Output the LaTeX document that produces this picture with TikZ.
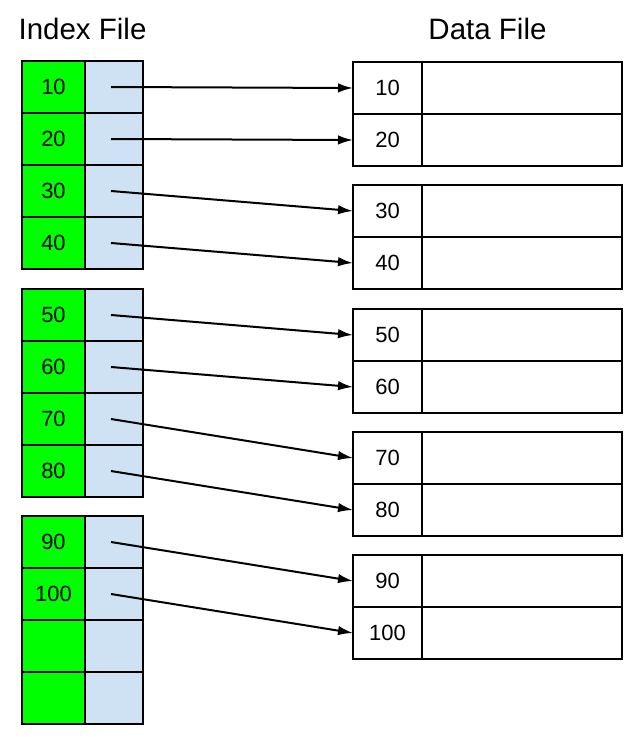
\documentclass[tikz,border=0pt]{standalone}
\usepackage{fontspec}
\setmainfont{Liberation Sans}
\usetikzlibrary{arrows.meta}
\definecolor{keygreen}{HTML}{00FF00}
\definecolor{ptrblue}{HTML}{CFE2F3}
\tikzset{
  cell/.style={draw=black, line width=2.3pt, rectangle, inner sep=0pt, outer sep=0pt, anchor=north west, minimum height=52pt, font=\fontsize{22}{24}\selectfont},
  ikey/.style={cell, fill=keygreen, minimum width=63pt},
  iptr/.style={cell, fill=ptrblue, minimum width=58pt},
  dkey/.style={cell, fill=white, minimum width=69pt},
  dval/.style={cell, fill=white, minimum width=200pt},
  title/.style={font=\fontsize{29.5}{34}\selectfont, anchor=base, inner sep=0pt},
  arr/.style={line width=2pt, -{Latex[length=15pt,width=9.5pt]}}
}
\begin{document}
\begin{tikzpicture}[x=1pt,y=-1pt]
\useasboundingbox (0,0) rectangle (638,741);
\node[title] (it) at (82.5,40) {Index File};
\node[title] (dt) at (487.5,40) {Data File};
\foreach \i/\t/\lab in {1/61/10, 2/113/20, 3/165/30, 4/217/40, 5/289/50, 6/341/60, 7/393/70, 8/445/80, 9/516/90, 10/568/100, 11/620/{}, 12/672/{}}{
  \node[ikey] (ik\i) at (22,\t) {\lab};
  \node[iptr] (ip\i) at (85,\t) {};
}
\foreach \j/\t/\lab in {1/62/10, 2/114/20, 3/185/30, 4/237/40, 5/309/50, 6/361/60, 7/432/70, 8/484/80, 9/555/90, 10/607/100}{
  \node[dkey] (dk\j) at (353,\t) {\lab};
  \node[dval] (dv\j) at (422,\t) {};
}
\foreach \k in {1,...,10}{
  \draw[arr] ([xshift=-3pt]ip\k.center) -- (dk\k.west);
}
\end{tikzpicture}
\end{document}
